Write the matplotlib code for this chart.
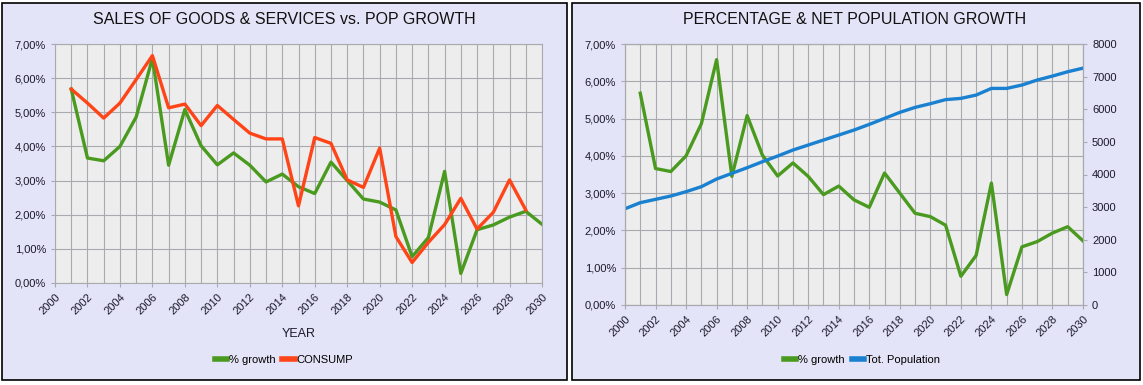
import numpy as np
import matplotlib.pyplot as plt
from matplotlib.patches import Rectangle
from matplotlib.ticker import FuncFormatter, MultipleLocator

plt.rcParams['font.family'] = ['Liberation Sans', 'DejaVu Sans']

anos = list(range(2000, 2031))
anos_cresc = list(range(2001, 2031))
anos_consumo = list(range(2001, 2030))

# % growth (2001-2030)
cresc = [5.68, 3.66, 3.58, 4.00, 4.86, 6.58, 3.45, 5.08, 4.02, 3.46,
         3.81, 3.45, 2.96, 3.19, 2.82, 2.62, 3.54, 3.00, 2.46, 2.37,
         2.14, 0.77, 1.33, 3.27, 0.28, 1.56, 1.70, 1.93, 2.10, 1.72]

# CONSUMP (2001-2029)
consumo = [5.68, 5.27, 4.83, 5.27, 5.96, 6.66, 5.13, 5.24, 4.61, 5.20,
           4.79, 4.39, 4.22, 4.22, 2.26, 4.26, 4.09, 3.02, 2.80, 3.95,
           1.36, 0.60, 1.19, 1.71, 2.48, 1.58, 2.07, 3.02, 2.14]

# Tot. Population (2000-2030)
populacao = [2950, 3136, 3238, 3340, 3473, 3626, 3861, 4035, 4208, 4392,
             4566, 4750, 4903, 5056, 5209, 5363, 5536, 5720, 5904, 6057,
             6170, 6295, 6333, 6435, 6639, 6639, 6742, 6895, 7017, 7150, 7260]

verde = '#4a9a1f'
vermelho = '#ff4418'
azul = '#1a80d0'
fundo = '#e4e4f8'
area = '#ededed'
grade = '#a9a9b0'

fig = plt.figure(figsize=(11.43, 3.85), dpi=100)
fig.patch.set_facecolor('white')

# molduras dos dois paineis
for x0, x1 in [(2, 567), (572, 1140)]:
    fig.patches.append(Rectangle((x0 / 1143, 1 - 380 / 385), (x1 - x0) / 1143, 377 / 385,
                                 transform=fig.transFigure, facecolor=fundo,
                                 edgecolor='black', linewidth=1.2, zorder=-5))

pct = FuncFormatter(lambda v, p: f"{v:.2f}%".replace('.', ','))


def estilo(ax):
    ax.set_facecolor(area)
    ax.set_xlim(2000, 2030)
    ax.set_ylim(0, 7)
    ax.xaxis.set_major_locator(MultipleLocator(2))
    ax.xaxis.set_minor_locator(MultipleLocator(1))
    ax.yaxis.set_major_locator(MultipleLocator(1))
    ax.yaxis.set_major_formatter(pct)
    ax.grid(True, which='both', axis='x', color=grade, linewidth=0.8)
    ax.grid(True, which='major', axis='y', color=grade, linewidth=0.8)
    ax.tick_params(axis='both', which='both', colors=grade, labelcolor='#1a1a2a',
                   labelsize=8, length=3)
    ax.tick_params(axis='x', which='minor', length=0)
    for lab in ax.get_xticklabels():
        lab.set_rotation(45)
        lab.set_ha('right')
        lab.set_rotation_mode('anchor')
    for s in ax.spines.values():
        s.set_color(grade)
    ax.set_axisbelow(True)


def legenda(ax, linhas, nomes, cx):
    leg = ax.legend(linhas, nomes, loc='center', bbox_to_anchor=(cx / 1143, 1 - 360 / 385),
                    bbox_transform=fig.transFigure, ncol=2, frameon=False, fontsize=8,
                    handlelength=1.1, handletextpad=0.2, columnspacing=0.6)
    for h in leg.legend_handles:
        h.set_linewidth(4)


# painel esquerdo
ax1 = fig.add_axes([55 / 1143, 1 - 283 / 385, 487 / 1143, 239 / 385])
g1, = ax1.plot(anos_cresc, cresc, color=verde, linewidth=2.4)
c1, = ax1.plot(anos_consumo, consumo, color=vermelho, linewidth=2.4)
estilo(ax1)
ax1.set_xlabel('YEAR', fontsize=9, labelpad=8, color='#1a1a2a')
fig.text(284 / 1143, 1 - 20 / 385, 'SALES OF GOODS & SERVICES vs. POP GROWTH',
         ha='center', va='center', fontsize=11.5, color='#111111')
legenda(ax1, [g1, c1], ['% growth', 'CONSUMP'], 284)

# painel direito
ax2 = fig.add_axes([625 / 1143, 1 - 305 / 385, 458 / 1143, 261 / 385])
g2, = ax2.plot(anos_cresc, cresc, color=verde, linewidth=2.4, zorder=3)
estilo(ax2)
ax3 = ax2.twinx()
p2, = ax3.plot(anos, populacao, color=azul, linewidth=2.4)
ax3.set_ylim(0, 8000)
ax3.yaxis.set_major_locator(MultipleLocator(1000))
ax3.tick_params(axis='y', colors=grade, labelcolor='#1a1a2a', labelsize=8, length=3)
for s in ax3.spines.values():
    s.set_color(grade)
fig.text(855 / 1143, 1 - 20 / 385, 'PERCENTAGE & NET POPULATION GROWTH',
         ha='center', va='center', fontsize=11.5, color='#111111')
legenda(ax2, [g2, p2], ['% growth', 'Tot. Population'], 862)

fig.savefig('out.png', dpi=100)
